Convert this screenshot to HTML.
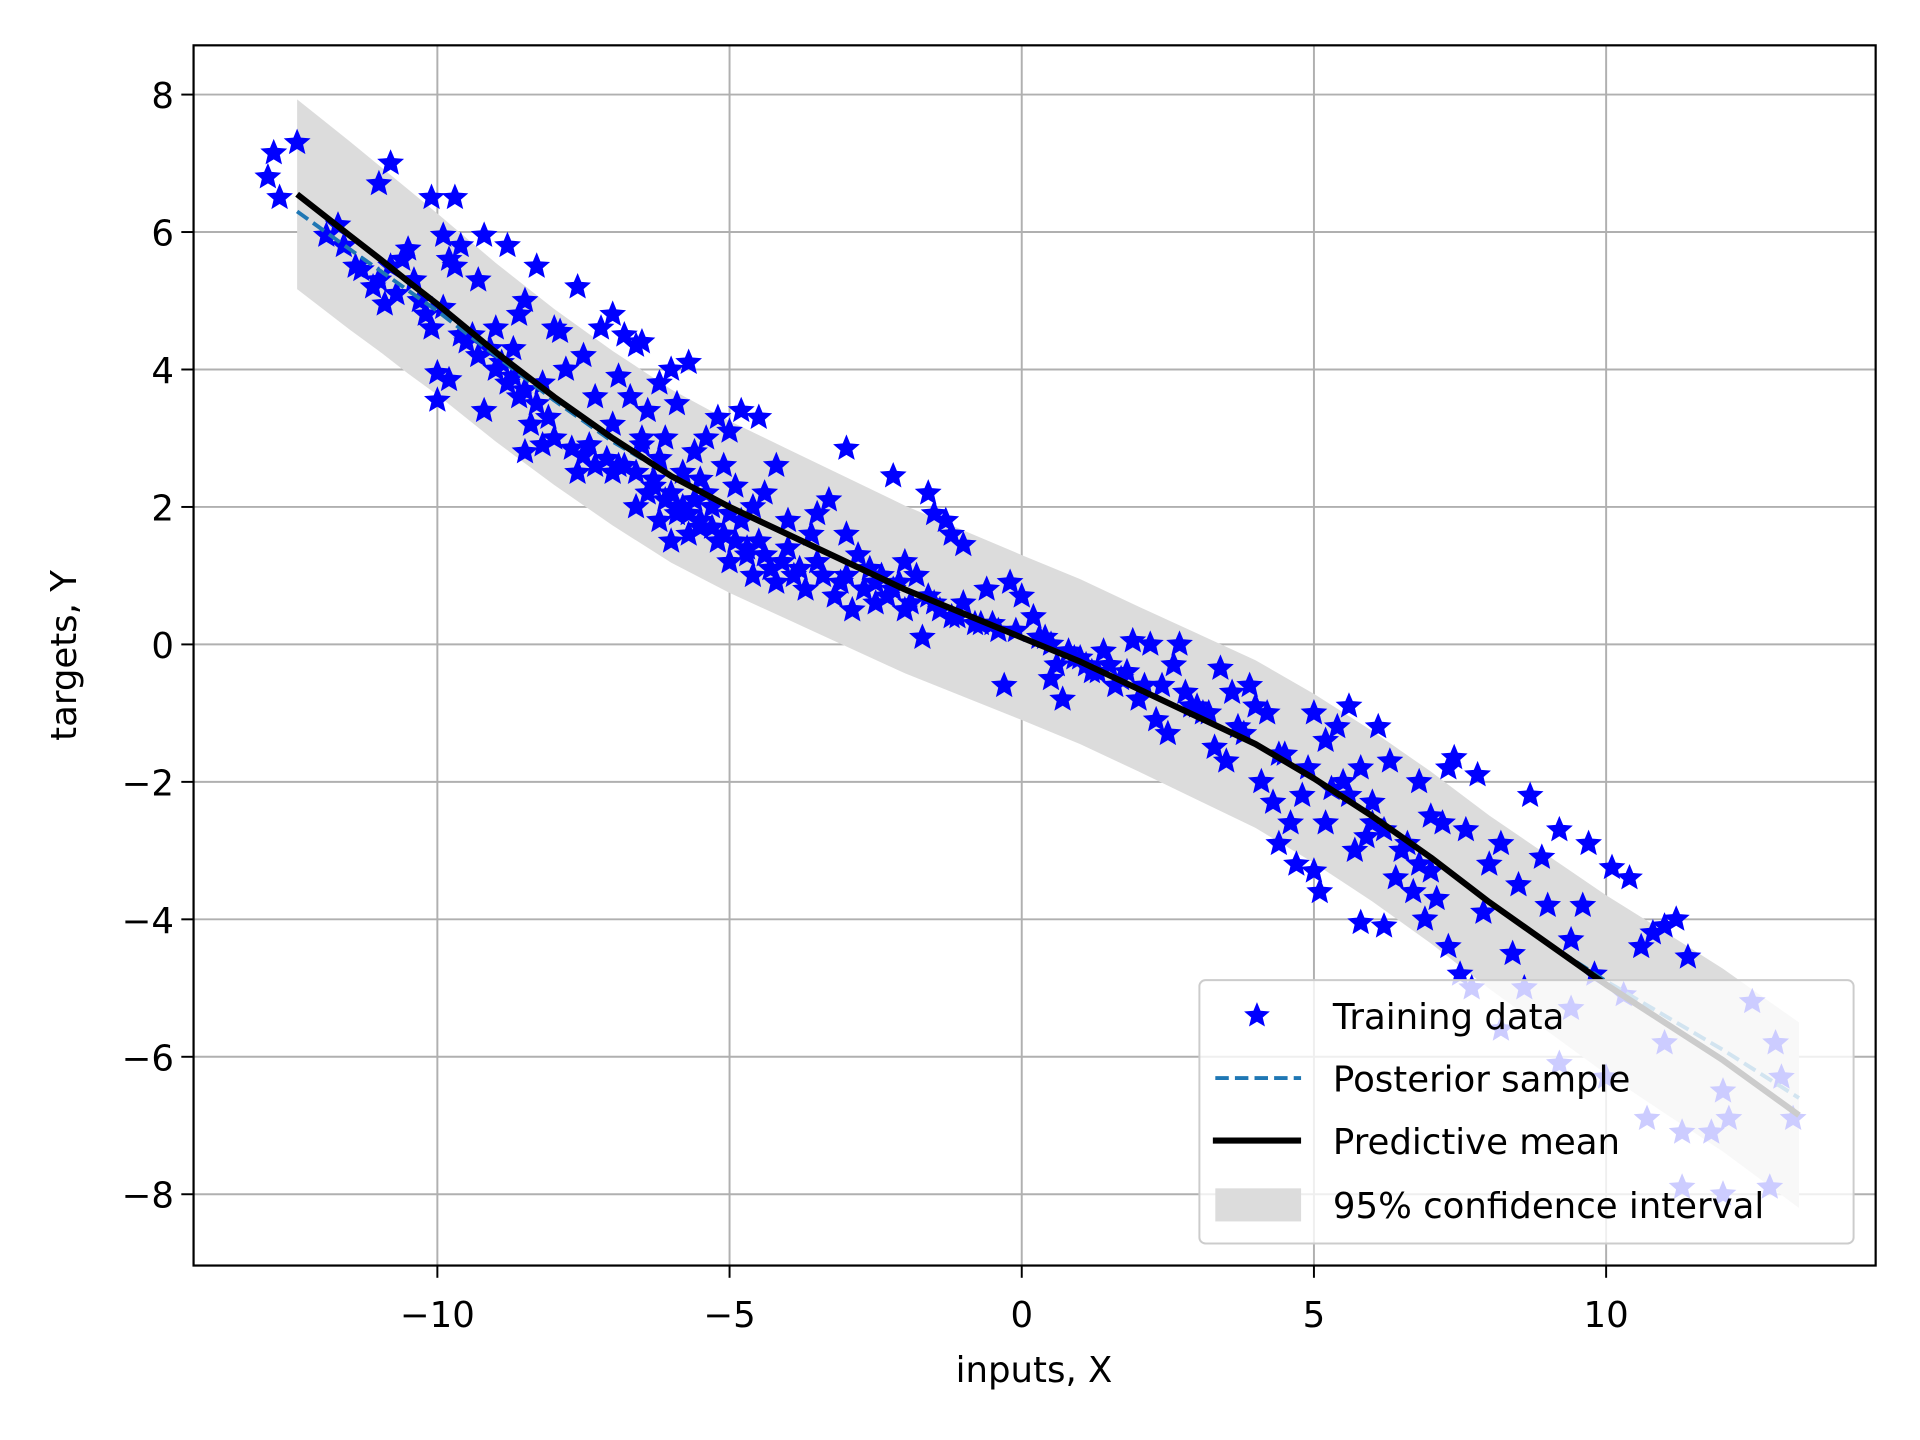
<!DOCTYPE html>
<html><head><meta charset="utf-8"><style>
html,body{margin:0;padding:0;background:#fff}
svg{display:block;font-family:"DejaVu Sans","Liberation Sans",sans-serif}
</style></head><body>
<svg id="chart" width="1920" height="1440" viewBox="0 0 1567.2 1175.4" preserveAspectRatio="none" xmlns="http://www.w3.org/2000/svg">
<rect width="1568" height="1176" fill="#fff"/>
<g id="grid"></g>
<g id="band"></g>
<g id="pts"></g>
<g id="lines"></g>
<g id="axes"></g>
<g id="legend"></g>
</svg>
<script>
const xTicks=[-10,-5,0,5,10];
const yTicks=[8,6,4,2,0,-2,-4,-6,-8];
const meanX=[-12.4,-11.5,-11,-10.5,-10,-9,-8,-7,-6,-5,-4,-3,-2,-1,0,1,2,3,4,5,6,7,8,9,10,11,12,13.3];
const meanY=[6.55,5.95,5.62,5.28,4.95,4.25,3.6,3.0,2.45,2.0,1.6,1.2,0.8,0.45,0.1,-0.25,-0.65,-1.05,-1.45,-1.95,-2.5,-3.1,-3.75,-4.35,-4.95,-5.5,-6.05,-6.85];
const sampleY=[6.3,5.75,5.45,5.15,4.85,4.2,3.55,2.95,2.45,2.0,1.6,1.2,0.8,0.45,0.1,-0.25,-0.65,-1.05,-1.45,-1.95,-2.5,-3.1,-3.75,-4.35,-4.9,-5.4,-5.9,-6.6];
const halfWidth=[1.38,1.37,1.35,1.34,1.32,1.3,1.28,1.27,1.26,1.25,1.24,1.23,1.22,1.21,1.2,1.2,1.2,1.21,1.22,1.23,1.24,1.25,1.26,1.28,1.3,1.32,1.33,1.35];
const dataX=[-12.9,-12.8,-12.7,-12.4,-11.9,-11.6,-11.7,-11.3,-11.1,-11.0,-10.9,-10.8,-10.6,-10.5,-10.3,-10.2,-10.1,-11.0,-10.8,-10.1,-9.7,-9.9,-9.8,-9.6,-9.7,-9.2,-9.3,-8.8,-8.3,-7.6,-8.5,-8.6,-8.0,-7.9,-10.0,-9.8,-10.0,-9.5,-9.3,-9.0,-8.8,-9.2,-8.6,-8.4,-8.5,-8.0,-7.7,-7.5,-7.3,-7.8,-7.5,-7.2,-7.0,-6.8,-6.6,-6.5,-6.9,-6.7,-7.3,-6.4,-6.2,-6.0,-5.7,-5.9,-6.1,-6.5,-6.8,-7.0,-6.3,-6.0,-5.8,-5.6,-5.4,-5.2,-5.0,-4.8,-4.5,-5.1,-4.9,-5.3,-5.5,-5.7,-5.9,-6.2,-6.6,-6.0,-5.2,-5.0,-4.8,-4.6,-4.4,-4.2,-4.0,-4.3,-4.6,-4.2,-3.9,-3.7,-3.6,-3.5,-3.3,-3.0,-2.2,-1.6,-1.5,-1.3,-1.2,-1.0,-3.0,-2.8,-2.6,-2.4,-2.2,-2.0,-1.8,-1.6,-1.4,-3.2,-2.9,-2.5,-2.0,-1.7,-1.2,-1.0,-0.8,-0.6,-0.4,-0.2,0,-0.3,0.2,0.4,0.6,0.8,0.5,0.7,1.0,1.2,1.4,1.6,1.8,2.0,2.2,1.9,2.4,2.6,2.7,2.8,3.0,2.3,2.5,3.2,3.4,3.6,3.3,3.5,3.8,4.0,3.9,4.2,4.1,4.3,4.5,4.6,4.4,4.8,4.7,5.0,5.2,5.4,5.6,5.0,5.2,5.5,5.8,5.1,5.7,5.9,6.0,6.1,6.3,6.2,5.8,6.4,6.6,6.7,6.8,7.0,6.9,7.1,7.2,7.3,7.4,7.6,7.3,7.5,7.8,8.0,7.9,8.2,8.5,8.7,8.4,8.9,9.0,9.2,9.4,9.7,9.6,9.8,10.1,10.4,10.6,10.8,11.2,11.4,11.0,7.7,8.2,8.6,9.2,9.4,10.0,10.3,10.7,11.0,11.3,11.3,11.8,12.0,12.1,12.5,12.9,13.0,13.2,12.8,12.0,-9.0,-8.7,-8.2,-7.0,-6.5,-5.5,-4.5,-3.5,-2.5,-1.5,-0.5,0.5,1.5,-6.4,-5.6,-5.0,-4.0,-7.6,-8.2,
-9.4,-9.1,-8.9,-8.7,-8.5,-8.3,-8.1,-7.4,-7.1,-6.9,-6.6,-6.3,-6.1,-5.9,-5.7,-5.5,-5.3,-5.1,-4.9,-4.7,-4.4,-4.1,-3.8,-3.4,-3.1,-2.7,-2.3,-1.9,-1.1,-0.7,-0.1,0.3,0.9,1.1,1.3,1.7,2.1,2.9,3.1,3.7,4.4,4.9,5.3,5.6,6.0,6.2,6.5,6.8,7.0,-10.4,-10.7,-11.4,-9.6,-9.9,-6.2,-5.8,-5.4,-4.7,-3.0,-2.1];
const dataY=[6.8,7.15,6.5,7.3,5.95,5.8,6.1,5.45,5.2,5.3,4.95,5.5,5.6,5.75,5.0,4.8,4.6,6.7,7.0,6.5,6.5,5.95,5.6,5.8,5.5,5.95,5.3,5.8,5.5,5.2,5.0,4.8,4.6,4.55,3.95,3.85,3.55,4.4,4.2,4.0,3.8,3.4,3.6,3.2,2.8,3.0,2.85,2.75,2.6,4.0,4.2,4.6,4.8,4.5,4.35,4.4,3.9,3.6,3.6,3.4,3.8,4.0,4.1,3.5,3.0,2.9,2.6,2.5,2.4,2.2,2.5,2.8,3.0,3.3,3.1,3.4,3.3,2.6,2.3,2.0,1.8,1.6,1.9,1.8,2.0,1.5,1.5,1.2,1.8,2.0,2.2,2.6,1.4,1.1,1.0,0.9,1.0,0.8,1.6,1.9,2.1,2.85,2.45,2.2,1.9,1.8,1.6,1.45,1.6,1.3,1.1,1.0,0.8,1.2,1.0,0.7,0.5,0.7,0.5,0.6,0.5,0.1,0.4,0.6,0.3,0.8,0.2,0.9,0.7,-0.6,0.4,0.1,-0.3,-0.1,-0.5,-0.8,-0.2,-0.4,-0.1,-0.6,-0.4,-0.8,0.0,0.05,-0.6,-0.3,0.0,-0.7,-0.9,-1.1,-1.3,-1.0,-0.35,-0.7,-1.5,-1.7,-1.3,-0.9,-0.6,-1.0,-2.0,-2.3,-1.6,-2.6,-2.9,-2.2,-3.2,-1.0,-1.4,-1.2,-0.9,-3.3,-2.6,-2.0,-1.8,-3.6,-3.0,-2.8,-2.3,-1.2,-1.7,-4.1,-4.05,-3.4,-2.9,-3.6,-2.0,-2.5,-4.0,-3.7,-2.6,-1.8,-1.65,-2.7,-4.4,-4.8,-1.9,-3.2,-3.9,-2.9,-3.5,-2.2,-4.5,-3.1,-3.8,-2.7,-4.3,-2.9,-3.8,-4.8,-3.25,-3.4,-4.4,-4.2,-4.0,-4.55,-4.1,-5.0,-5.6,-5.0,-6.1,-5.3,-6.3,-5.1,-6.9,-5.8,-7.1,-7.9,-7.1,-6.5,-6.9,-5.2,-5.8,-6.3,-6.9,-7.9,-8.0,4.6,4.3,3.8,3.2,3.0,2.4,1.5,1.2,0.9,0.6,0.3,0.0,-0.3,2.2,2.1,1.9,1.8,2.5,2.9,
4.5,4.3,4.1,3.9,3.7,3.5,3.3,2.9,2.7,2.6,2.5,2.3,2.1,2.0,1.9,1.7,1.7,1.6,1.5,1.4,1.3,1.2,1.1,1.0,0.9,0.8,0.7,0.6,0.4,0.3,0.2,0.1,-0.2,-0.3,-0.4,-0.5,-0.6,-0.9,-1.0,-1.2,-1.6,-1.8,-2.1,-2.2,-2.6,-2.7,-3.0,-3.2,-3.3,5.3,5.1,5.5,4.5,4.9,2.7,2.0,2.2,1.3,1.0,0.9];

const NS="http://www.w3.org/2000/svg";
const L=158,R=1531,T=37,B=1033;
const sx=v=>834+v*47.7;
const sy=v=>526-v*56.1;
function mk(tag,attrs,parent){const e=document.createElementNS(NS,tag);for(const k in attrs)e.setAttribute(k,attrs[k]);parent.appendChild(e);return e;}
const grid=document.getElementById('grid'),axes=document.getElementById('axes');
xTicks.forEach(t=>{
  const g=mk('line',{x1:sx(t),x2:sx(t),y1:T,y2:B,stroke:'#b0b0b0','stroke-width':1.6},grid);
  
  
  const tk=mk('line',{x1:sx(t),x2:sx(t),y1:B,y2:B+10,stroke:'#000','stroke-width':1.6},axes);
  
  
  const tx=mk('text',{x:sx(t),y:B+50,'text-anchor':'middle','font-size':29},axes);
  tx.textContent=(t<0?'\u2212':'')+Math.abs(t);
  
  
});
yTicks.forEach(t=>{
  const g=mk('line',{x1:L,x2:R,y1:sy(t),y2:sy(t),stroke:'#b0b0b0','stroke-width':1.6},grid);
  
  
  const tk=mk('line',{x1:L-10,x2:L,y1:sy(t),y2:sy(t),stroke:'#000','stroke-width':1.6},axes);
  
  
  const tx=mk('text',{x:L-16,y:sy(t)+11,'text-anchor':'end','font-size':29},axes);
  tx.textContent=(t<0?'\u2212':'')+Math.abs(t);
  
  
});
const fr=mk('rect',{x:L,y:T,width:R-L,height:B-T,fill:'none',stroke:'#000','stroke-width':1.8},axes);


const xl=mk('text',{x:844,y:1128,'text-anchor':'middle','font-size':29},axes);
xl.textContent='inputs, X';


const yl=mk('text',{x:62,y:535,'text-anchor':'middle','font-size':29,transform:'rotate(-90 62 535)'},axes);
yl.textContent='targets, Y';



let up=meanX.map((x,i)=>sx(x)+','+sy(meanY[i]+halfWidth[i]));
let lo=meanX.map((x,i)=>sx(x)+','+sy(meanY[i]-halfWidth[i])).reverse();
const band=mk('polygon',{points:up.concat(lo).join(' '),fill:'#dcdcdc'},document.getElementById('band'));



function star(cx,cy,r){let p='';for(let k=0;k<10;k++){const a=-Math.PI/2+k*Math.PI/5;const rr=k%2?r*0.45:r;p+=(k?'L':'M')+(cx+rr*Math.cos(a)).toFixed(1)+' '+(cy+rr*Math.sin(a)).toFixed(1);}return p+'Z';}
const pts=document.getElementById('pts');
dataX.forEach((x,i)=>{
  const s=mk('path',{d:star(sx(x),sy(dataY[i]),11.5),fill:'#0000ff'},pts);
  
  
});
const lines=document.getElementById('lines');
const sp=mk('polyline',{points:meanX.map((x,i)=>sx(x)+','+sy(sampleY[i])).join(' '),fill:'none',stroke:'#1f77b4','stroke-width':3.2,'stroke-dasharray':'11 5','stroke-linejoin':'round'},lines);


const ml=mk('polyline',{points:meanX.map((x,i)=>sx(x)+','+sy(meanY[i])).join(' '),fill:'none',stroke:'#000','stroke-width':5,'stroke-linejoin':'round'},lines);



const lg=document.getElementById('legend');
const lb=mk('rect',{x:979,y:800,width:534,height:215,rx:5,fill:'#fff','fill-opacity':0.8,stroke:'#cccccc','stroke-width':1.6},lg);


const labels=['Training data','Posterior sample','Predictive mean','95% confidence interval'];
const ys=[829,880,931,983];
labels.forEach((t,i)=>{
  const tx=mk('text',{x:1088,y:ys[i]+11,'font-size':29},lg);
  tx.textContent=t;
  
  
});
const k1=mk('path',{d:star(1026,829,11),fill:'#0000ff'},lg);


const k2=mk('line',{x1:992,x2:1062,y1:880,y2:880,stroke:'#1f77b4','stroke-width':3.2,'stroke-dasharray':'11 5'},lg);


const k3=mk('line',{x1:990,x2:1062,y1:931,y2:931,stroke:'#000','stroke-width':5},lg);


const k4=mk('rect',{x:992,y:970,width:70,height:27,fill:'#dcdcdc'},lg);


</script>
</body></html>
